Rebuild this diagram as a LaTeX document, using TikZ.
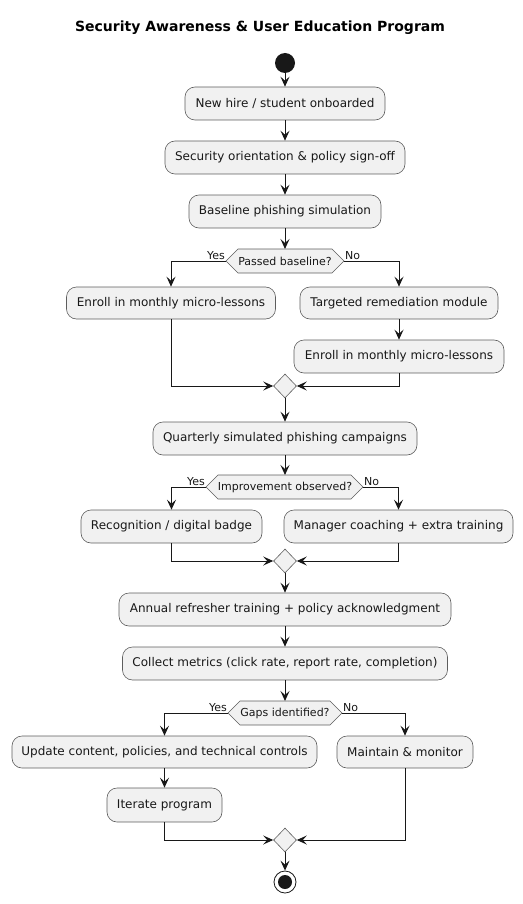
\documentclass[tikz,border=0pt]{standalone}
\usepackage{fontspec}
\setmainfont{DejaVu Sans}
\usetikzlibrary{arrows.meta,shapes.geometric}
\definecolor{boxfill}{HTML}{F1F1F1}
\definecolor{ink}{HTML}{181818}
\tikzset{
  act/.style={draw=ink!70, line width=0.6pt, fill=boxfill, rounded corners=10pt,
    minimum height=33pt, inner xsep=0pt, align=center, font=\fontsize{12}{14}\selectfont, text=ink},
  dtxt/.style={inner sep=0pt, font=\fontsize{11}{13}\selectfont, text=ink},
  hexa/.style={draw=ink!70, line width=0.6pt, fill=boxfill},
  merge/.style={diamond, draw=ink!70, line width=0.6pt, fill=boxfill, minimum width=23pt, minimum height=24pt, inner sep=0pt},
  lbl/.style={inner sep=1pt, font=\fontsize{11}{13}\selectfont, text=ink},
  arr/.style={draw=ink, line width=1pt, -{Stealth[length=10pt,width=9pt,inset=4pt]}},
}
\begin{document}
\begin{tikzpicture}[x=1pt,y=-1pt]
\useasboundingbox (0,0) rectangle (522,904);
\node[font=\fontsize{14}{16}\selectfont\bfseries, text=black] (title) at (260,28) {Security Awareness \& User Education Program};
% start
\node[circle, fill=ink, minimum size=20pt, inner sep=0pt] (start) at (285,63) {};
% boxes
\node[act, minimum width=200pt] (b1) at (285,103.5) {New hire / student onboarded};
\node[act, minimum width=240pt] (b2) at (285,157.5) {Security orientation \& policy sign-off};
\node[act, minimum width=192pt] (b3) at (285,211.5) {Baseline phishing simulation};
% decision 1
\coordinate (d1l) at (226,261);
\coordinate (d1r) at (344,261);
\draw[hexa] (d1l) -- (238,249) -- (332,249) -- (d1r) -- (332,273) -- (238,273) -- cycle;
\node[dtxt] (d1) at (285,261) {Passed baseline?};
\node[lbl, anchor=south east] (y1) at (d1l) {Yes};
\node[lbl, anchor=south west] (n1) at (d1r) {No};
\node[act, minimum width=209pt, minimum height=32pt] (b4) at (171,303) {Enroll in monthly micro-lessons};
\node[act, minimum width=198pt, minimum height=32pt] (b5) at (399,303) {Targeted remediation module};
\node[act, minimum width=210pt] (b6) at (399,356.5) {Enroll in monthly micro-lessons};
\node[merge] (m1) at (285,386) {};
\node[act, minimum width=264pt] (b7) at (285,438.5) {Quarterly simulated phishing campaigns};
% decision 2
\coordinate (d2l) at (206,487);
\coordinate (d2r) at (363,487);
\draw[hexa] (d2l) -- (218,475) -- (351,475) -- (d2r) -- (351,499) -- (218,499) -- cycle;
\node[dtxt] (d2) at (285,487) {Improvement observed?};
\node[lbl, anchor=south east] (y2) at (d2l) {Yes};
\node[lbl, anchor=south west] (n2) at (d2r) {No};
\node[act, minimum width=181pt] (b8) at (171.5,526.5) {Recognition / digital badge};
\node[act, minimum width=229pt] (b9) at (398.5,526.5) {Manager coaching + extra training};
\node[merge] (m2) at (285,561) {};
\node[act, minimum width=332pt] (b10) at (285,609.5) {Annual refresher training + policy acknowledgment};
\node[act, minimum width=325pt] (b11) at (285,663.5) {Collect metrics (click rate, report rate, completion)};
% decision 3
\coordinate (d3l) at (228,713);
\coordinate (d3r) at (342,713);
\draw[hexa] (d3l) -- (240,701) -- (330,701) -- (d3r) -- (330,725) -- (240,725) -- cycle;
\node[dtxt] (d3) at (285,713) {Gaps identified?};
\node[lbl, anchor=south east] (y3) at (d3l) {Yes};
\node[lbl, anchor=south west] (n3) at (d3r) {No};
\node[act, minimum width=305pt, minimum height=32pt] (b12) at (164.5,752) {Update content, policies, and technical controls};
\node[act, minimum width=136pt, minimum height=32pt] (b13) at (405,752) {Maintain \& monitor};
\node[act, minimum width=115pt, minimum height=34pt] (b14) at (164.5,805) {Iterate program};
\node[merge] (m3) at (285,840) {};
% end
\node[circle, draw=ink, line width=0.8pt, fill=white, minimum size=22pt, inner sep=0pt] (stop) at (285,882) {};
\node[circle, fill=ink, minimum size=14pt, inner sep=0pt] (stopin) at (285,882) {};
% connectors
\draw[arr] (start) -- (b1);
\draw[arr] (b1) -- (b2);
\draw[arr] (b2) -- (b3);
\draw[arr] (b3.south) -- (285,249);
\draw[arr] (d1l) -| (b4.north);
\draw[arr] (d1r) -| (b5.north);
\draw[arr] (b5) -- (b6);
\draw[arr] (b4.south) |- (m1.west);
\draw[arr] (b6.south) |- (m1.east);
\draw[arr] (m1) -- (b7);
\draw[arr] (b7.south) -- (285,475);
\draw[arr] (d2l) -| (b8.north);
\draw[arr] (d2r) -| (b9.north);
\draw[arr] (b8.south) |- (m2.west);
\draw[arr] (b9.south) |- (m2.east);
\draw[arr] (m2) -- (b10);
\draw[arr] (b10) -- (b11);
\draw[arr] (b11.south) -- (285,701);
\draw[arr] (d3l) -| (b12.north);
\draw[arr] (d3r) -| (b13.north);
\draw[arr] (b12) -- (b14);
\draw[arr] (b14.south) |- (m3.west);
\draw[arr] (b13.south) |- (m3.east);
\draw[arr] (m3) -- (stop);
\end{tikzpicture}
\end{document}
